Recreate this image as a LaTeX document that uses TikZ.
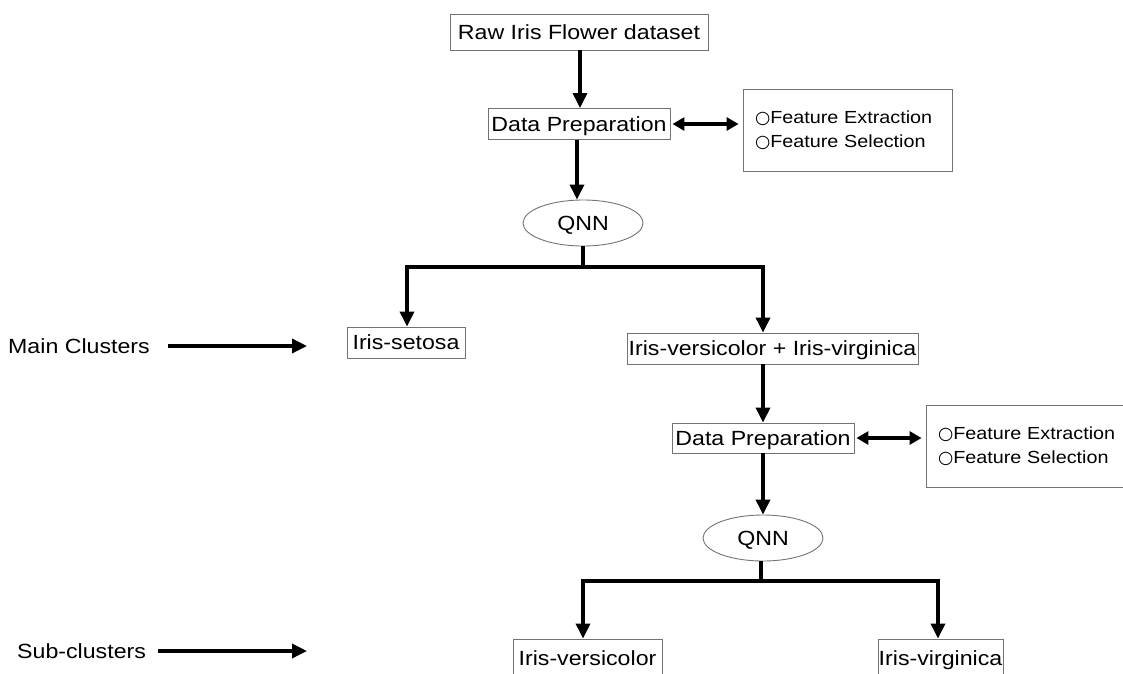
\documentclass[tikz,border=0pt]{standalone}
\usepackage{fontspec}
\setmainfont{Liberation Sans}[FakeStretch=1.13]
\newfontfamily\symfont{DejaVu Sans}
\usetikzlibrary{arrows.meta,shapes.geometric}

\begin{document}
\begin{tikzpicture}[x=1pt,y=-1pt,
  box/.style={draw=black!55, line width=0.9pt, inner sep=0pt,
    font=\fontsize{20.5}{24}\selectfont, text height=14.8pt, text depth=0pt},
  featbox/.style={draw=black!55, line width=0.9pt, inner xsep=12pt, inner ysep=0pt,
    minimum width=209pt, minimum height=82pt, text width=185pt, align=left,
    font=\fontsize{17.5}{24}\selectfont},
  model/.style={ellipse, draw=black!55, line width=0.9pt, inner sep=0pt,
    minimum width=120pt, minimum height=46pt, font=\fontsize{20.5}{24}\selectfont,
    text height=14.8pt, text depth=0pt},
  label/.style={font=\fontsize{20.5}{24}\selectfont, anchor=west, inner sep=0pt,
    text height=14.8pt, text depth=0pt},
  link/.style={line width=3.4pt},
  arr/.style={line width=3.4pt, -{Triangle[length=15pt,width=14pt]}},
  biarr/.style={line width=3.4pt, {Triangle[length=12pt,width=13pt]}-{Triangle[length=12pt,width=13pt]}},
]
\useasboundingbox (0,0) rectangle (1123,673);
\clip (0,0) rectangle (1123,673);

% first stage
\node[box, minimum width=258pt, minimum height=36pt] (raw) at (579,32) {Raw Iris Flower dataset};
\node[box, minimum width=182pt, minimum height=31pt] (prep1) at (579,124) {Data Preparation};
\node[featbox] (feat1) at (847.5,130) {{\symfont ○}Feature Extraction\\{\symfont ○}Feature Selection};
\node[model] (qnn1) at (583,223) {QNN};

% main clusters
\node[box, minimum width=118pt, minimum height=31pt] (setosa) at (406,342.5) {Iris-setosa};
\node[box, minimum width=291pt, minimum height=31pt] (mixed) at (772.5,348.5) {Iris-versicolor + Iris-virginica};

% second stage
\node[box, minimum width=182pt, minimum height=30pt] (prep2) at (763,438) {Data Preparation};
\node[featbox] (feat2) at (1030.5,446) {{\symfont ○}Feature Extraction\\{\symfont ○}Feature Selection};
\node[model] (qnn2) at (763,538) {QNN};

% sub-clusters (boxes run past the lower edge)
\node[box, minimum width=149pt, minimum height=38pt] (vers) at (587.5,658) {Iris-versicolor};
\node[box, minimum width=125pt, minimum height=38pt] (virg) at (940.5,658) {Iris-virginica};

% level labels
\node[label] (lmain) at (8,346) {Main Clusters};
\coordinate (lmainend) at (307,346);
\node[label] (lsub) at (17,651) {Sub-clusters};
\coordinate (lsubend) at (307,651);

% connectors
\draw[arr] ([xshift=1pt]raw.south) -- ([xshift=1pt]raw.south |- prep1.north);
\draw[biarr] ([xshift=2pt]prep1.east) -- ([xshift=-4pt]feat1.west |- prep1.east);
\draw[arr] ([xshift=-2pt]prep1.south) -- ([xshift=-6pt]qnn1.north);

\coordinate (split1) at (583,267);
\draw[link] (qnn1.south) -- (split1);
\draw[arr] ([xshift=1.7pt]split1) -| ([xshift=1pt]setosa.north);
\draw[arr] ([xshift=-1.7pt]split1) -| ([xshift=-9.5pt]mixed.north);

\draw[arr] ([xshift=-9.5pt]mixed.south) -- (prep2.north);
\draw[biarr] ([xshift=2pt]prep2.east) -- ([xshift=-4pt]feat2.west |- prep2.east);
\draw[arr] (prep2.south) -- (qnn2.north);

\coordinate (split2) at (761,581);
\draw[link] ([xshift=-2pt]qnn2.south) -- (split2);
\draw[arr] ([xshift=1.7pt]split2) -| ([xshift=-4.5pt]vers.north);
\draw[arr] ([xshift=-1.7pt]split2) -| ([xshift=-2.5pt]virg.north);

\draw[arr] ([xshift=18pt]lmain.east) -- (lmainend);
\draw[arr] ([xshift=12pt]lsub.east) -- (lsubend);
\end{tikzpicture}
\end{document}
